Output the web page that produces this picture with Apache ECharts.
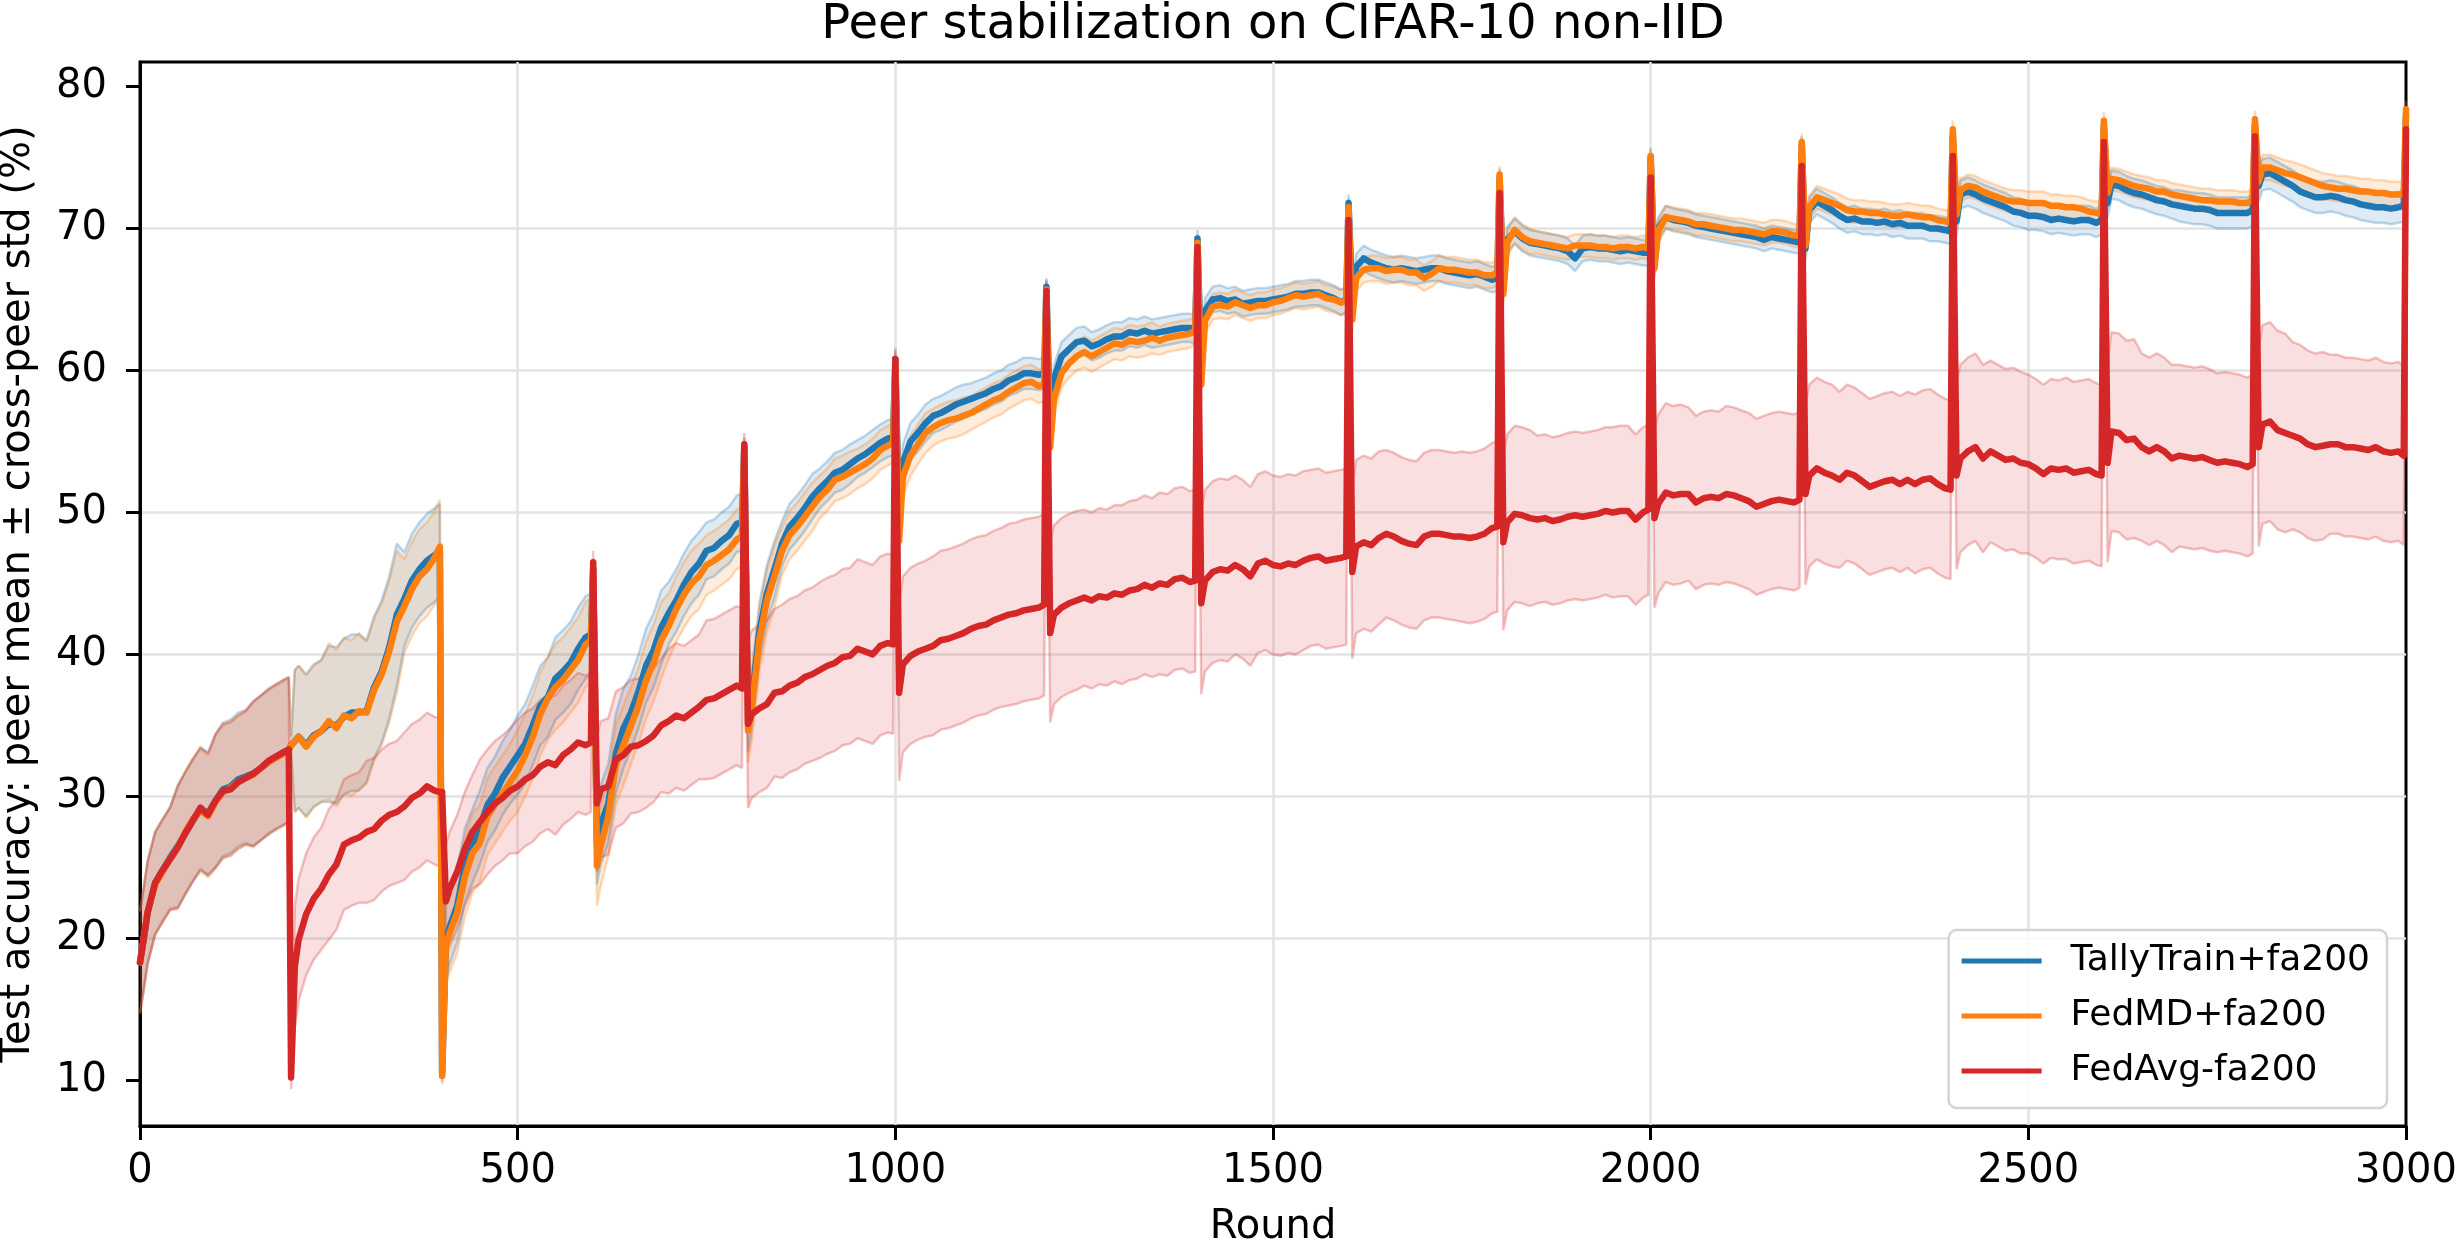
<!DOCTYPE html>
<html>
<head>
<meta charset="utf-8">
<script src="https://cdn.jsdelivr.net/npm/echarts@6/dist/echarts.min.js"></script>
<style>
html, body { margin: 0; padding: 0; background: #fff; }
#chart { width: 2457px; height: 1245px; }
</style>
</head>
<body>
<div id="chart"></div>
<script>
// rounds: every 200-round block is sampled at these offsets, plus the final round
const segmentStarts = [0, 200, 400, 600, 800, 1000, 1200, 1400, 1600, 1800, 2000, 2200, 2400, 2600, 2800]
const segmentOffsets = [0, 5, 10, 20, 30, 40, 50, 60, 70, 80, 90, 100, 110, 120, 130, 140, 150, 160, 170, 180, 190, 197]
const finalRound = 3000
const yTicks = [10, 20, 30, 40, 50, 60, 70, 80]

// peer mean accuracy (%), one row per 200-round block
const tallyMean = [
    18.3, 20.0, 21.8, 23.9, 24.8, 25.7, 26.5, 27.4, 28.3, 29.1, 28.8, 29.7, 30.5, 30.7, 31.2, 31.4, 31.6, 32.0, 32.4, 32.8, 33.1, 33.3,
    33.6, 33.9, 34.2, 33.6, 34.3, 34.6, 35.1, 35.0, 35.6, 35.9, 35.9, 36.0, 37.7, 38.8, 40.5, 42.8, 43.9, 45.2, 46.0, 46.6, 47.0, 47.3,
    10.5, 19.8, 20.8, 22.3, 25.1, 26.5, 27.8, 29.4, 30.2, 31.3, 32.1, 32.9, 33.7, 35.0, 36.4, 37.0, 38.3, 38.8, 39.4, 40.4, 41.2, 41.4,
    46.0, 26.6, 28.0, 29.5, 33.0, 34.8, 35.9, 37.4, 39.2, 40.3, 41.9, 42.9, 43.8, 44.9, 45.8, 46.4, 47.3, 47.5, 48.0, 48.4, 49.2, 49.3,
    54.7, 35.1, 36.8, 41.6, 44.3, 46.0, 47.8, 49.0, 49.6, 50.3, 51.1, 51.7, 52.2, 52.8, 53.0, 53.4, 53.8, 54.1, 54.5, 54.9, 55.2, 55.3,
    60.8, 49.0, 53.5, 55.0, 55.6, 56.3, 56.8, 57.0, 57.3, 57.6, 57.8, 58.0, 58.2, 58.4, 58.7, 58.9, 59.3, 59.5, 59.8, 59.8, 59.7, 59.8,
    65.9, 56.0, 59.4, 61.0, 61.5, 62.0, 62.1, 61.7, 61.9, 62.2, 62.4, 62.4, 62.7, 62.6, 62.8, 62.6, 62.7, 62.8, 62.9, 63.0, 63.0, 62.9,
    69.3, 60.0, 64.2, 65.0, 65.1, 64.9, 65.0, 64.7, 64.8, 64.9, 64.9, 65.0, 65.1, 65.2, 65.4, 65.4, 65.5, 65.5, 65.3, 65.1, 64.8, 65.0,
    71.8, 65.0, 67.3, 67.9, 67.6, 67.4, 67.2, 67.1, 67.2, 67.1, 67.0, 67.1, 67.2, 67.2, 67.0, 66.9, 66.8, 66.7, 66.8, 66.6, 66.4, 66.5,
    73.6, 66.0, 69.2, 69.8, 69.3, 69.0, 68.9, 68.8, 68.7, 68.6, 68.4, 67.9, 68.6, 68.7, 68.6, 68.6, 68.5, 68.4, 68.5, 68.4, 68.3, 68.3,
    75.0, 67.5, 70.0, 70.8, 70.6, 70.5, 70.4, 70.2, 70.1, 70.0, 69.9, 69.8, 69.7, 69.6, 69.5, 69.4, 69.2, 69.4, 69.3, 69.2, 69.1, 69.0,
    75.9, 68.6, 71.3, 71.9, 71.6, 71.3, 70.9, 70.6, 70.7, 70.5, 70.5, 70.4, 70.5, 70.3, 70.4, 70.2, 70.2, 70.2, 70.0, 70.0, 69.9, 69.8,
    76.5, 70.5, 72.4, 72.6, 72.4, 72.1, 71.9, 71.7, 71.5, 71.2, 71.1, 70.9, 70.9, 70.8, 70.6, 70.7, 70.6, 70.5, 70.6, 70.6, 70.4, 70.6,
    77.2, 71.8, 73.1, 73.0, 72.7, 72.5, 72.4, 72.2, 72.0, 71.9, 71.7, 71.6, 71.5, 71.4, 71.4, 71.3, 71.1, 71.1, 71.1, 71.1, 71.1, 71.3,
    77.3, 73.0, 73.8, 73.9, 73.6, 73.3, 73.0, 72.6, 72.4, 72.2, 72.2, 72.3, 72.2, 72.0, 71.9, 71.7, 71.6, 71.5, 71.5, 71.4, 71.5, 71.6,
    78.0
]
const fedmdMean = [
    18.3, 20.0, 21.8, 23.8, 24.7, 25.6, 26.4, 27.5, 28.4, 29.0, 28.6, 29.6, 30.3, 30.6, 31.0, 31.3, 31.5, 32.0, 32.4, 32.7, 33.0, 33.2,
    33.6, 33.9, 34.2, 33.5, 34.2, 34.6, 35.3, 34.8, 35.7, 35.5, 36.0, 35.9, 37.5, 38.6, 40.2, 42.3, 43.4, 44.6, 45.5, 46.0, 46.8, 47.6,
    10.3, 19.6, 20.4, 21.8, 24.3, 26.0, 26.7, 28.6, 29.4, 30.2, 31.0, 31.8, 32.9, 34.2, 35.8, 36.9, 37.7, 38.2, 38.9, 39.6, 40.7, 41.0,
    46.0, 25.1, 26.5, 28.6, 32.2, 33.6, 35.0, 36.4, 38.2, 39.4, 41.0, 42.0, 43.2, 44.2, 45.0, 45.5, 46.3, 46.6, 47.0, 47.4, 48.1, 48.3,
    54.6, 34.6, 36.2, 41.0, 43.8, 45.5, 47.3, 48.4, 49.0, 49.7, 50.4, 51.1, 51.6, 52.3, 52.5, 52.8, 53.1, 53.4, 53.8, 54.4, 54.7, 54.9,
    60.6, 48.0, 52.5, 54.0, 54.8, 55.6, 56.0, 56.3, 56.5, 56.6, 56.8, 57.0, 57.3, 57.6, 57.9, 58.1, 58.5, 58.8, 59.1, 59.2, 58.9, 59.0,
    65.7, 54.6, 58.0, 59.8, 60.5, 61.0, 61.3, 61.0, 61.3, 61.6, 61.9, 61.8, 62.1, 62.0, 62.1, 62.3, 62.1, 62.3, 62.4, 62.5, 62.6, 62.8,
    69.0, 59.0, 63.5, 64.5, 64.6, 64.5, 64.8, 64.6, 64.4, 64.6, 64.6, 64.8, 64.9, 65.1, 65.3, 65.2, 65.3, 65.4, 65.1, 65.0, 64.8, 64.9,
    71.5, 63.6, 66.5, 67.1, 67.2, 67.2, 67.0, 67.1, 67.1, 66.9, 66.9, 66.5, 66.8, 67.2, 67.1, 67.1, 67.0, 66.9, 66.9, 66.7, 66.7, 66.9,
    73.8, 65.4, 69.0, 69.9, 69.4, 69.1, 69.0, 68.9, 68.8, 68.7, 68.6, 68.8, 68.8, 68.8, 68.7, 68.7, 68.6, 68.7, 68.7, 68.6, 68.7, 68.6,
    75.1, 67.2, 69.8, 70.8, 70.7, 70.6, 70.5, 70.3, 70.3, 70.2, 70.1, 70.0, 69.9, 69.9, 69.8, 69.7, 69.6, 69.8, 69.8, 69.7, 69.5, 69.5,
    76.1, 68.8, 71.5, 72.2, 72.0, 71.8, 71.6, 71.3, 71.2, 71.2, 71.1, 71.1, 71.0, 70.9, 70.9, 71.0, 70.9, 70.8, 70.8, 70.6, 70.5, 70.4,
    77.0, 71.0, 72.7, 73.0, 72.9, 72.6, 72.4, 72.2, 72.0, 71.9, 71.9, 71.8, 71.8, 71.8, 71.6, 71.6, 71.5, 71.5, 71.4, 71.2, 71.1, 71.1,
    77.6, 72.5, 73.5, 73.4, 73.2, 73.0, 72.9, 72.8, 72.6, 72.6, 72.4, 72.3, 72.2, 72.1, 72.0, 72.0, 71.9, 71.9, 71.9, 71.8, 71.8, 72.0,
    77.7, 73.3, 74.3, 74.3, 74.1, 73.9, 73.8, 73.6, 73.4, 73.2, 73.0, 72.9, 72.8, 72.8, 72.7, 72.6, 72.6, 72.5, 72.5, 72.4, 72.4, 72.4,
    78.4
]
const fedavgMean = [
    18.3, 20.0, 21.8, 23.9, 24.8, 25.6, 26.4, 27.4, 28.3, 29.2, 28.7, 29.7, 30.4, 30.5, 31.0, 31.3, 31.6, 32.0, 32.5, 32.8, 33.1, 33.3,
    10.2, 18.0, 19.9, 21.7, 22.8, 23.5, 24.5, 25.2, 26.6, 26.9, 27.1, 27.5, 27.7, 28.3, 28.7, 28.9, 29.3, 29.9, 30.2, 30.7, 30.4, 30.3,
    30.3, 22.6, 23.5, 24.7, 26.3, 27.5, 28.2, 28.9, 29.5, 29.9, 30.4, 30.7, 31.2, 31.5, 32.1, 32.4, 32.2, 32.9, 33.3, 33.8, 33.6, 33.8,
    46.5, 29.5, 30.5, 30.7, 32.6, 32.9, 33.5, 33.6, 33.9, 34.3, 35.0, 35.3, 35.7, 35.5, 35.9, 36.3, 36.8, 36.9, 37.2, 37.5, 37.8, 37.6,
    54.8, 35.1, 35.8, 36.2, 36.5, 37.3, 37.4, 37.8, 38.0, 38.4, 38.6, 38.9, 39.2, 39.4, 39.8, 39.9, 40.4, 40.2, 40.0, 40.6, 40.8, 40.7,
    60.8, 37.3, 39.3, 39.9, 40.2, 40.4, 40.6, 41.0, 41.1, 41.3, 41.5, 41.8, 42.0, 42.1, 42.4, 42.6, 42.8, 42.9, 43.1, 43.2, 43.3, 43.5,
    65.6, 41.5, 42.8, 43.3, 43.6, 43.8, 44.0, 43.8, 44.1, 44.0, 44.3, 44.2, 44.5, 44.6, 44.9, 44.7, 45.0, 44.9, 45.3, 45.4, 45.1, 45.2,
    68.7, 43.6, 45.2, 45.8, 46.0, 45.9, 46.3, 46.0, 45.5, 46.4, 46.6, 46.3, 46.2, 46.4, 46.3, 46.6, 46.8, 46.9, 46.6, 46.7, 46.8, 46.9,
    70.6, 45.8, 47.6, 47.9, 47.7, 48.2, 48.5, 48.3, 48.0, 47.8, 47.7, 48.3, 48.5, 48.5, 48.4, 48.3, 48.3, 48.2, 48.3, 48.5, 48.9, 49.0,
    72.5, 47.9, 49.3, 49.9, 49.8, 49.6, 49.5, 49.6, 49.4, 49.5, 49.7, 49.8, 49.7, 49.8, 49.9, 50.1, 50.0, 50.1, 50.1, 49.5, 50.0, 50.2,
    73.6, 49.6, 50.6, 51.4, 51.2, 51.3, 51.3, 50.7, 51.0, 51.1, 51.0, 51.3, 51.2, 51.0, 50.8, 50.4, 50.6, 50.8, 50.9, 50.8, 50.7, 50.9,
    74.4, 51.3, 52.6, 53.1, 52.8, 52.6, 52.3, 52.8, 52.6, 52.2, 51.8, 52.0, 52.2, 52.3, 52.0, 52.3, 52.0, 52.3, 52.4, 52.0, 51.7, 51.6,
    75.1, 52.6, 53.8, 54.3, 54.6, 53.8, 54.3, 54.0, 53.7, 53.8, 53.5, 53.4, 53.1, 52.7, 53.1, 53.0, 53.1, 52.8, 52.9, 53.0, 52.7, 52.6,
    76.1, 53.5, 55.7, 55.6, 55.1, 55.2, 54.6, 54.3, 54.6, 54.3, 53.8, 54.0, 53.9, 53.8, 53.9, 53.7, 53.5, 53.6, 53.5, 53.4, 53.2, 53.4,
    76.5, 54.6, 56.2, 56.4, 55.8, 55.6, 55.4, 55.2, 54.8, 54.6, 54.7, 54.8, 54.8, 54.6, 54.6, 54.5, 54.4, 54.6, 54.3, 54.2, 54.3, 54.0,
    77.0
]

// cross-peer std, one value per 50-round bin (0-50, 50-100, ...)
const tallyStd = [
    3.6, 4.3, 4.7, 5.1, 5.0, 5.5, 5.0, 3.3, 2.6, 2.6, 2.8, 2.9, 2.8, 2.6, 2.2, 2.0, 2.0, 1.6, 1.4, 1.3,
    1.3, 1.2, 1.1, 1.1, 1.0, 1.0, 1.0, 1.0, 0.9, 0.9, 0.9, 0.9, 0.9, 0.9, 0.9, 0.9, 0.9, 0.9, 0.9, 0.9,
    0.8, 0.8, 0.8, 0.8, 0.9, 0.9, 0.9, 0.9, 1.0, 1.0, 1.0, 1.0, 1.0, 1.0, 1.1, 1.1, 1.1, 1.1, 1.1, 1.1
]
const fedmdStd = [
    3.6, 4.3, 4.7, 5.1, 5.0, 5.5, 5.0, 3.3, 2.8, 2.7, 2.9, 3.0, 2.8, 2.7, 2.3, 2.1, 2.2, 1.7, 1.5, 1.4,
    1.4, 1.3, 1.2, 1.2, 1.0, 1.1, 1.1, 1.0, 0.9, 0.9, 0.9, 0.9, 0.9, 0.9, 0.9, 0.9, 0.9, 0.8, 0.8, 0.8,
    0.8, 0.8, 0.8, 0.8, 0.8, 0.8, 0.8, 0.8, 0.8, 0.8, 0.8, 0.8, 0.8, 0.8, 0.8, 0.8, 0.9, 0.9, 0.9, 0.9
]
const fedavgStd = [
    3.6, 4.3, 4.7, 5.1, 4.3, 4.6, 5.0, 5.2, 4.0, 4.4, 4.7, 4.9, 4.8, 4.7, 5.1, 5.6, 5.9, 6.1, 6.2, 6.3,
    6.2, 6.3, 6.3, 6.4, 6.3, 6.2, 6.3, 6.4, 6.4, 6.3, 6.3, 6.2, 6.1, 5.9, 5.9, 6.0, 6.2, 5.9, 5.9, 6.0,
    6.3, 6.1, 6.2, 6.2, 6.4, 6.2, 6.2, 6.3, 6.6, 6.4, 6.3, 6.4, 7.0, 6.6, 6.4, 6.3, 7.0, 6.6, 6.3, 6.3
]
// std at the aggregation rounds 200, 400, ..., 3000
const tallySpikeStd = [0.6, 0.6, 0.6, 0.6, 0.6, 0.6, 0.6, 0.6, 0.6, 0.6, 0.6, 0.6, 0.6, 0.6, 0.6]
const fedmdSpikeStd = [0.6, 0.6, 0.6, 0.6, 0.6, 0.6, 0.6, 0.6, 0.6, 0.6, 0.6, 0.6, 0.6, 0.6, 0.6]
const fedavgSpikeStd = [0.8, 0.8, 0.8, 0.8, 0.8, 0.8, 0.8, 0.8, 0.8, 0.8, 0.8, 0.8, 0.8, 0.8, 0.8]

const rounds = []
segmentStarts.forEach(s => segmentOffsets.forEach(o => rounds.push(s + o)))
rounds.push(finalRound)

const FONT = 'DejaVu Sans'

const stdAt = (binStd, spikeStd, r) => {
    if (r > 0 && r % 200 === 0) return spikeStd[r / 200 - 1]
    return binStd[Math.min(binStd.length - 1, Math.floor(r / 50))]
}

// mean +- std band: filled polygon (custom series) plus two faint edge lines
const makeBand = (key, mean, binStd, spikeStd, color, fill) => {
    const lower = rounds.map((r, i) => [r, mean[i] - stdAt(binStd, spikeStd, r)])
    const upper = rounds.map((r, i) => [r, mean[i] + stdAt(binStd, spikeStd, r)])
    const edge = { color: color, width: 2.5, opacity: 0.28 }
    return [
        {
            type: 'custom',
            name: key + '-fill',
            data: [[0, 0]],
            silent: true,
            clip: true,
            z: 1,
            renderItem: (params, api) => {
                const pts = upper.map(p => api.coord(p))
                    .concat(lower.slice().reverse().map(p => api.coord(p)))
                return { type: 'polygon', shape: { points: pts }, style: { fill: fill } }
            }
        },
        { type: 'line', name: key + '-lower', data: lower, symbol: 'none', lineStyle: edge, silent: true, z: 1 },
        { type: 'line', name: key + '-upper', data: upper, symbol: 'none', lineStyle: edge, silent: true, z: 1 }
    ]
}

const makeLine = (name, mean, color) => ({
    type: 'line',
    name: name,
    data: rounds.map((r, i) => [r, mean[i]]),
    symbol: 'none',
    lineStyle: { color: color, width: 6.5, join: 'round', cap: 'round' },
    itemStyle: { color: color },
    z: 2
})

const chart = echarts.init(document.getElementById('chart'))
chart.setOption({
    animation: false,
    backgroundColor: '#fff',
    title: {
        text: 'Peer stabilization on CIFAR-10 non-IID',
        left: 1273,
        top: 2,
        padding: 0,
        textAlign: 'center',
        textStyle: { fontFamily: FONT, fontSize: 48, fontWeight: 'normal', color: '#000' }
    },
    grid: {
        left: 140, right: 51, top: 62, bottom: 119,
        outerBoundsMode: 'none',
        containLabel: false,
        show: true, borderColor: '#000', borderWidth: 3, backgroundColor: 'transparent'
    },
    legend: {
        data: ['TallyTrain+fa200', 'FedMD+fa200', 'FedAvg-fa200'],
        orient: 'vertical',
        right: 70,
        bottom: 137,
        icon: 'rect',
        itemWidth: 80,
        itemHeight: 5,
        itemGap: 9,
        padding: [8, 17, 14, 13],
        borderColor: '#d4d4d4',
        borderWidth: 2.5,
        borderRadius: 8,
        backgroundColor: 'rgba(255,255,255,0.8)',
        textStyle: { fontFamily: FONT, fontSize: 36, color: '#000', lineHeight: 46, padding: [0, 0, 0, 24] }
    },
    xAxis: {
        type: 'value',
        min: 0,
        max: 3000,
        interval: 500,
        name: 'Round',
        nameLocation: 'middle',
        nameGap: 82,
        nameTextStyle: { fontFamily: FONT, fontSize: 40, color: '#000' },
        axisLine: { show: true, lineStyle: { color: '#000', width: 3 } },
        axisTick: { show: true, inside: false, length: 14, lineStyle: { color: '#000', width: 3 } },
        axisLabel: { fontFamily: FONT, fontSize: 40, color: '#000', margin: 26, formatter: v => String(v) },
        splitLine: { show: true, showMinLine: false, showMaxLine: false, lineStyle: { color: '#e3e3e3', width: 2.5 } }
    },
    yAxis: {
        type: 'value',
        min: 6.78,
        max: 81.73,
        splitNumber: 8,
        name: 'Test accuracy: peer mean \u00b1 cross-peer std (%)',
        nameLocation: 'middle',
        nameRotate: 90,
        nameGap: 101,
        nameTextStyle: { fontFamily: FONT, fontSize: 40, color: '#000' },
        axisLine: { show: true, lineStyle: { color: '#000', width: 3 } },
        axisTick: { show: true, inside: false, length: 14, lineStyle: { color: '#000', width: 3 }, customValues: yTicks },
        axisLabel: {
            fontFamily: FONT, fontSize: 40, color: '#000', margin: 33,
            customValues: yTicks,
            formatter: v => String(Math.round(v))
        },
        splitLine: { show: true, showMinLine: false, showMaxLine: false, lineStyle: { color: '#e3e3e3', width: 2.5 } }
    },
    series: [
        ...makeBand('tally', tallyMean, tallyStd, tallySpikeStd, '#1f77b4', 'rgba(31,119,180,0.15)'),
        ...makeBand('fedmd', fedmdMean, fedmdStd, fedmdSpikeStd, '#ff7f0e', 'rgba(255,127,14,0.15)'),
        ...makeBand('fedavg', fedavgMean, fedavgStd, fedavgSpikeStd, '#d62728', 'rgba(214,39,40,0.15)'),
        makeLine('TallyTrain+fa200', tallyMean, '#1f77b4'),
        makeLine('FedMD+fa200', fedmdMean, '#ff7f0e'),
        makeLine('FedAvg-fa200', fedavgMean, '#d62728')
    ]
})
</script>
</body>
</html>
